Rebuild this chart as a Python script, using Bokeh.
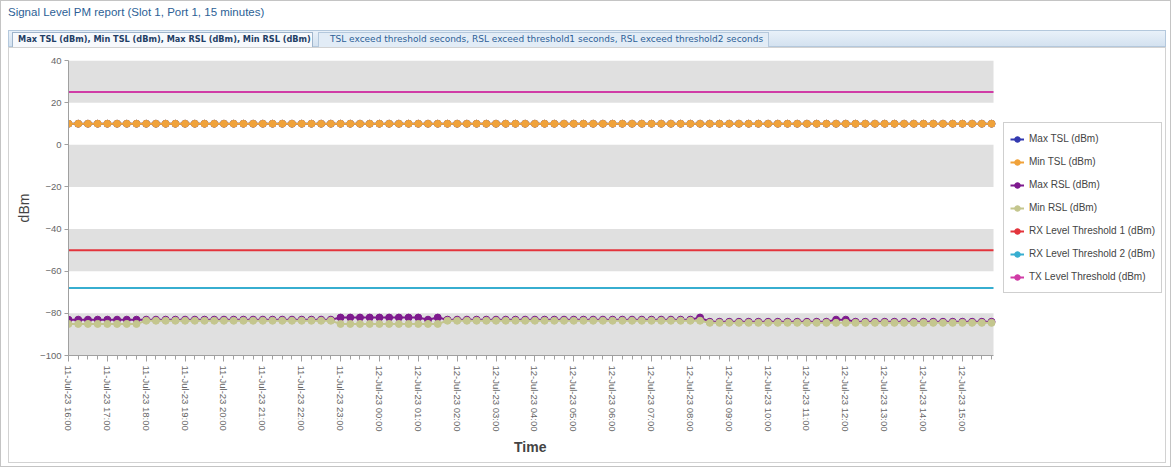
import pandas as pd
from bokeh.plotting import figure
from bokeh.models import (ColumnDataSource, Range1d, FixedTicker, DatetimeTickFormatter,
                          Legend, LegendItem, Div, Title)
from bokeh.layouts import column
from bokeh.embed import file_html
from bokeh.resources import INLINE

# 15 minute samples, 11-Jul-23 16:00 .. 12-Jul-23 15:45
times = pd.date_range("2023-07-11 16:00", periods=96, freq="15min")

max_tsl = [10, 10, 10, 10, 10, 10, 10, 10, 10, 10, 10, 10,
           10, 10, 10, 10, 10, 10, 10, 10, 10, 10, 10, 10,
           10, 10, 10, 10, 10, 10, 10, 10, 10, 10, 10, 10,
           10, 10, 10, 10, 10, 10, 10, 10, 10, 10, 10, 10,
           10, 10, 10, 10, 10, 10, 10, 10, 10, 10, 10, 10,
           10, 10, 10, 10, 10, 10, 10, 10, 10, 10, 10, 10,
           10, 10, 10, 10, 10, 10, 10, 10, 10, 10, 10, 10,
           10, 10, 10, 10, 10, 10, 10, 10, 10, 10, 10, 10]
min_tsl = [10, 10, 10, 10, 10, 10, 10, 10, 10, 10, 10, 10,
           10, 10, 10, 10, 10, 10, 10, 10, 10, 10, 10, 10,
           10, 10, 10, 10, 10, 10, 10, 10, 10, 10, 10, 10,
           10, 10, 10, 10, 10, 10, 10, 10, 10, 10, 10, 10,
           10, 10, 10, 10, 10, 10, 10, 10, 10, 10, 10, 10,
           10, 10, 10, 10, 10, 10, 10, 10, 10, 10, 10, 10,
           10, 10, 10, 10, 10, 10, 10, 10, 10, 10, 10, 10,
           10, 10, 10, 10, 10, 10, 10, 10, 10, 10, 10, 10]
max_rsl = [-83, -83, -83, -83, -83, -83, -83, -83, -83, -83, -83, -83,
           -83, -83, -83, -83, -83, -83, -83, -83, -83, -83, -83, -83,
           -83, -83, -83, -83, -82, -82, -82, -82, -82, -82, -82, -82,
           -82, -83, -82, -83, -83, -83, -83, -83, -83, -83, -83, -83,
           -83, -83, -83, -83, -83, -83, -83, -83, -83, -83, -83, -83,
           -83, -83, -83, -83, -83, -82, -84, -84, -84, -84, -84, -84,
           -84, -84, -84, -84, -84, -84, -84, -83, -83, -84, -84, -84,
           -84, -84, -84, -84, -84, -84, -84, -84, -84, -84, -84, -84]
min_rsl = [-85, -85, -85, -85, -85, -85, -85, -85, -83.5, -83.5, -83.5, -83.5,
           -83.5, -83.5, -83.5, -83.5, -83.5, -83.5, -83.5, -83.5, -83.5, -83.5, -83.5, -83.5,
           -83.5, -83.5, -83.5, -83.5, -85, -85, -85, -85, -85, -85, -85, -85,
           -85, -85, -85, -83.5, -83.5, -83.5, -83.5, -83.5, -83.5, -83.5, -83.5, -83.5,
           -83.5, -83.5, -83.5, -83.5, -83.5, -83.5, -83.5, -83.5, -83.5, -83.5, -83.5, -83.5,
           -83.5, -83.5, -83.5, -83.5, -83.5, -83.5, -84.5, -84.5, -84.5, -84.5, -84.5, -84.5,
           -84.5, -84.5, -84.5, -84.5, -84.5, -84.5, -84.5, -84.5, -84.5, -84.5, -84.5, -84.5,
           -84.5, -84.5, -84.5, -84.5, -84.5, -84.5, -84.5, -84.5, -84.5, -84.5, -84.5, -84.5]

rx_threshold_1 = -50
rx_threshold_2 = -68
tx_threshold = 25

y_ticks = [-100, -80, -60, -40, -20, 0, 20, 40]

title = "Signal Level PM report (Slot 1, Port 1, 15 minutes)"
tab1 = "Max TSL (dBm), Min TSL (dBm), Max RSL (dBm), Min RSL (dBm)"
tab2 = "TSL exceed threshold seconds, RSL exceed threshold1 seconds, RSL exceed threshold2 seconds"

header = Div(text=f"""
<div style="position:relative;width:1171px;height:48px;">
<div style="position:absolute;left:0;top:0;width:1171px;height:467px;box-sizing:border-box;border:1px solid #c4c4c4;pointer-events:none;"></div>
<div style="position:absolute;left:8px;top:47px;width:1158px;height:416px;box-sizing:border-box;border:1px solid #d2d2d2;pointer-events:none;"></div>
<div style="position:absolute;left:8px;top:6px;font-family:'Liberation Sans',Arial,sans-serif;font-size:11.5px;color:#2d5f96;line-height:12px;white-space:nowrap;">{title}</div>
<div style="position:absolute;left:8px;top:30px;height:17px;width:1158px;box-sizing:border-box;background:linear-gradient(#e9f1f9,#d4e2f0);border:1px solid #b4c8dc;font-family:'DejaVu Sans',sans-serif;white-space:nowrap;">
<div style="position:absolute;left:3px;top:1px;width:301px;height:15px;box-sizing:border-box;padding-left:5px;line-height:13px;background:#f7f9fc;border:1px solid #9fb5cc;border-bottom:none;font-weight:bold;font-size:8.2px;color:#1f3f66;overflow:hidden;">{tab1}</div>
<div style="position:absolute;left:309px;top:1px;width:451px;height:15px;box-sizing:border-box;padding-left:11px;line-height:13px;background:#e2ecf6;border:1px solid #b4c8dc;border-bottom:none;font-size:9px;color:#2d5f96;overflow:hidden;">{tab2}</div>
</div>
</div>
""", width=1171, height=48, margin=0)

ms = [t.value / 1e6 for t in times]
x_start = ms[0]
x_end = ms[-1] + 3 * 60 * 1000

# the frame also holds the legend: data part is 925px of a 1097px wide frame
data_px, frame_px = 925, 1097
x_view_end = x_start + (x_end - x_start) * frame_px / data_px

p = figure(width=1171, height=419, x_axis_type="datetime",
           x_range=Range1d(x_start, x_view_end), y_range=Range1d(-100, 40),
           output_backend="svg", toolbar_location=None,
           min_border_left=68, min_border_right=6, min_border_top=12, min_border_bottom=112)
p.outline_line_color = None
p.background_fill_color = None
p.border_fill_color = None
p.grid.grid_line_color = None

# grey bands between every other tick
p.quad(left=x_start, right=x_end, bottom=y_ticks[0::2], top=y_ticks[1::2],
       fill_color="#e0e0e0", line_color=None)

# axes
p.yaxis.ticker = FixedTicker(ticks=y_ticks)
p.yaxis.axis_label = "dBm"
p.yaxis.axis_label_text_font = "Liberation Sans"
p.yaxis.axis_label_text_font_size = "14px"
p.yaxis.axis_label_text_font_style = "normal"
p.yaxis.axis_label_text_color = "#444444"
p.yaxis.axis_label_standoff = 5
p.yaxis.major_label_text_font = "Liberation Sans"
p.yaxis.major_label_text_font_size = "9.5px"
p.yaxis.major_label_text_color = "#666666"
p.yaxis.major_label_standoff = 3
p.yaxis.major_tick_in = 0
p.yaxis.major_tick_out = 4
p.yaxis.minor_tick_line_color = None
p.yaxis.axis_line_color = "#a0a0a0"
p.yaxis.major_tick_line_color = "#a0a0a0"

hours = [m for t, m in zip(times, ms) if t.minute == 0]
fmt = "%d-%b-%y %H:%M"
p.xaxis.ticker = FixedTicker(ticks=hours, minor_ticks=ms)
p.xaxis.bounds = (x_start, x_end)
p.xaxis.formatter = DatetimeTickFormatter(minutes=fmt, minsec=fmt, hourmin=fmt, hours=fmt,
                                          days=fmt, months=fmt, years=fmt)
p.xaxis.major_label_orientation = "vertical"
p.xaxis.major_label_text_font = "Liberation Sans"
p.xaxis.major_label_text_font_size = "9.5px"
p.xaxis.major_label_text_color = "#666666"
p.xaxis.major_label_standoff = 4
p.xaxis.major_tick_in = 0
p.xaxis.major_tick_out = 6
p.xaxis.minor_tick_in = 0
p.xaxis.minor_tick_out = 4
p.xaxis.axis_line_color = "#a0a0a0"
p.xaxis.major_tick_line_color = "#a0a0a0"
p.xaxis.minor_tick_line_color = "#a0a0a0"

# x axis title, centred under the data part of the frame
p.add_layout(Title(text="Time", align="left", offset=data_px / 2 - 17,
                   text_font="Liberation Sans", text_font_size="14px",
                   text_font_style="bold", text_color="#444444", standoff=4), "below")

series = [
    ("Max TSL (dBm)", max_tsl, "#3239b0"),
    ("Min TSL (dBm)", min_tsl, "#f0a23a"),
    ("Max RSL (dBm)", max_rsl, "#7e1a8e"),
    ("Min RSL (dBm)", min_rsl, "#c4c68e"),
]
thresholds = [
    ("RX Level Threshold 1 (dBm)", rx_threshold_1, "#e3343c"),
    ("RX Level Threshold 2 (dBm)", rx_threshold_2, "#37aed0"),
    ("TX Level Threshold (dBm)", tx_threshold, "#d03ca6"),
]

items = []
for name, vals, color in series:
    src = ColumnDataSource(dict(t=times, v=vals))
    ln = p.line("t", "v", source=src, line_color=color, line_width=2)
    mk = p.scatter("t", "v", source=src, size=7, fill_color=color, line_color=color)
    items.append(LegendItem(label=name, renderers=[ln, mk]))

for name, val, color in thresholds:
    src = ColumnDataSource(dict(t=[x_start, x_end], v=[val, val]))
    ln = p.line("t", "v", source=src, line_color=color, line_width=2)
    # marker only for the legend symbol
    mk = p.scatter("t", "v", source=ColumnDataSource(dict(t=[float("nan")], v=[float("nan")])),
                   size=7, fill_color=color, line_color=color)
    items.append(LegendItem(label=name, renderers=[ln, mk]))

legend = Legend(items=items, location=(935, 62),
                label_text_font="Liberation Sans", label_text_font_size="10px",
                label_text_color="#444444", glyph_width=14, glyph_height=14,
                label_height=19, spacing=4, padding=6, label_standoff=5, margin=0,
                border_line_color="#a0a0a0", background_fill_color="white",
                background_fill_alpha=1)
p.add_layout(legend)

page = column(header, p, spacing=0)
open("out.html", "w").write(file_html(page, INLINE))
